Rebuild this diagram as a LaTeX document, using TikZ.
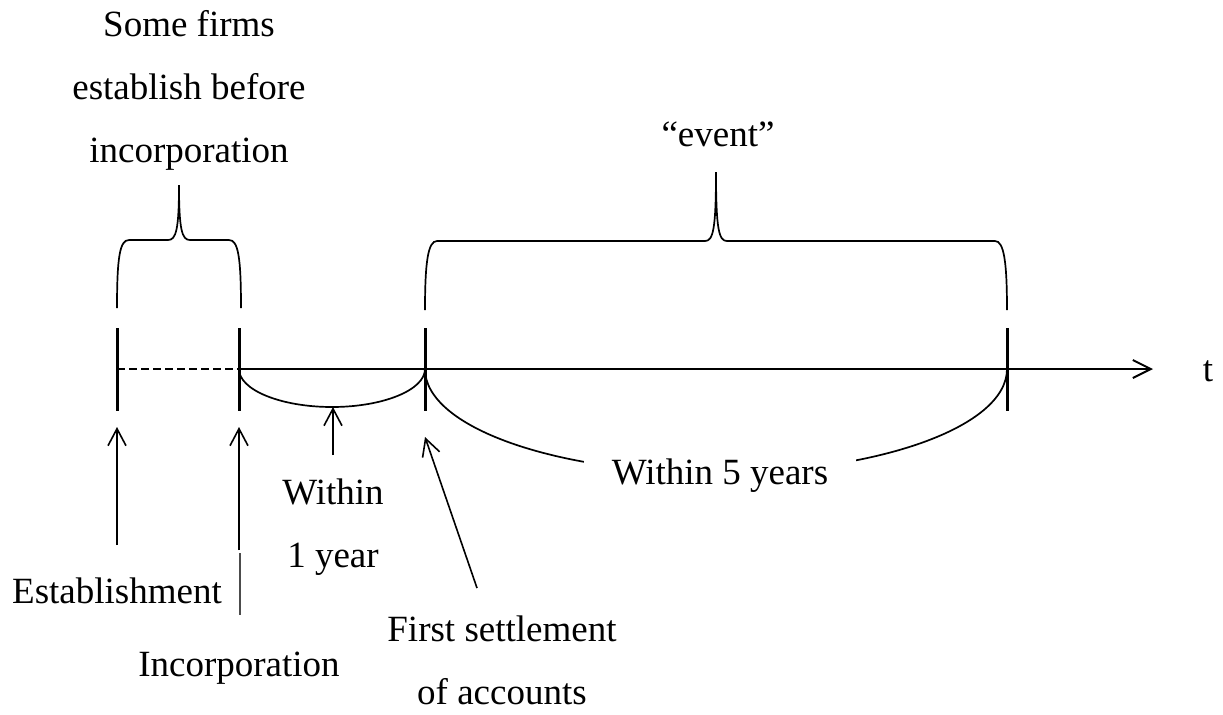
\documentclass[tikz,border=0pt]{standalone}
\usepackage{fontspec}
\setmainfont{Liberation Serif}
\usetikzlibrary{arrows.meta}

\begin{document}
\begin{tikzpicture}[x=0.5pt, y=-0.5pt,
    lbl/.style={inner sep=0pt, align=center, font=\fontsize{18.5}{31.5}\selectfont},
    tickline/.style={line width=1.5pt},
    brace/.style={line width=0.85pt},
    pointer/.style={line width=0.8pt, -{Straight Barb[length=8.5pt,width=9pt]}}]
            \useasboundingbox (0,0) rectangle (1223,714);

            % Draw time axis
            \coordinate (est) at (117,369);
            \coordinate (inc) at (239,369);
            \coordinate (fsa) at (425,369);
            \coordinate (fiv) at (1007,369);
            \coordinate (tend) at (1153,369);
            \draw[line width=1pt, dash pattern=on 4pt off 2pt] (est) -- (inc);
            \draw[line width=1pt, -{Straight Barb[length=9pt,width=9pt]}] (inc) -- (tend);
            \node[lbl] (t) at (1208,371) {t};

            % Draw ticks
            \foreach \p in {est,inc,fsa,fiv}
                \draw[tickline] (\p) ++(0,-41) -- ++(0,83);

            % Draw braces above
            \draw[brace] (117,308) .. controls (117,256) and (120,240) .. (129,240) -- (168,240)
                .. controls (176,240) and (179,230) .. (179,185)
                .. controls (179,230) and (182,240) .. (190,240) -- (229,240)
                .. controls (238,240) and (241,256) .. (241,308);
            \draw[brace] (425,310) .. controls (425,262) and (428,241) .. (437,241) -- (705,241)
                .. controls (713,241) and (716,230) .. (716,172)
                .. controls (716,230) and (719,241) .. (727,241) -- (995,241)
                .. controls (1004,241) and (1007,262) .. (1007,310);
            \node[lbl] (firms) at (189,90) {Some firms\\establish before\\incorporation};
            \node[lbl] (event) at (718,134) {“event”};

            % Draw arcs below
            \draw[brace] (inc) .. controls (239,390) and (281,407) .. (332,407)
                .. controls (383,407) and (425,390) .. (fsa);
            \draw[brace] (fsa) .. controls (425,427) and (555,473) .. (716,473)
                .. controls (877,473) and (1007,427) .. (fiv);
            \node[lbl, fill=white, inner xsep=14pt] (five) at (720,476) {Within 5 years};

            % Labels below
            \node[lbl] (within) at (333,527) {Within\\1 year};
            \node[lbl] (estlbl) at (117,591) {Establishment};
            \node[lbl] (inclbl) at (239,668) {Incorporation};
            \node[lbl] (fsalbl) at (502,660) {First settlement\\of accounts};

            % Draw pointers
            \coordinate (estfoot) at (117,545);
            \coordinate (estpt) at (117,427);
            \coordinate (incfoot) at (239,550);
            \coordinate (incpt) at (239,427);
            \coordinate (yrfoot) at (333,455);
            \coordinate (yrpt) at (333,407);
            \coordinate (fsafoot) at (477,588);
            \coordinate (fsapt) at (425,437);
            \draw[pointer] (estfoot) -- (estpt);
            \draw[pointer] (incfoot) -- (incpt);
            \draw[pointer] (yrfoot) -- (yrpt);
            \draw[pointer] (fsafoot) -- (fsapt);
            \draw[gray!60!black, line width=0.8pt] (240,553) -- (240,615);
        \end{tikzpicture}
\end{document}
